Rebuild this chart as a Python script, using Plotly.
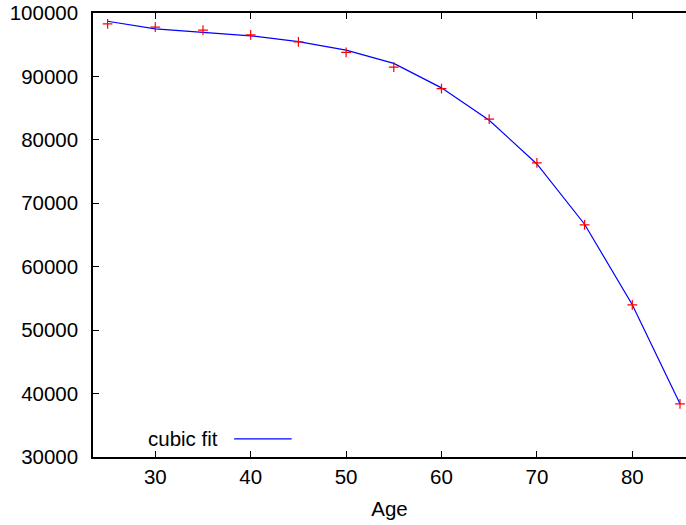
import plotly.graph_objects as go

ages = [25, 30, 35, 40, 45, 50, 55, 60, 65, 70, 75, 80, 85]
observed = [98300, 97780, 97300, 96560, 95460, 93800, 91470, 88090, 83270, 76370, 66590, 53975, 38360]
cubic_fit = [98700, 97500, 96950, 96400, 95500, 94150, 92050, 88200, 83100, 76200, 66700, 54000, 38400]
y_ticks = [30000, 40000, 50000, 60000, 70000, 80000, 90000, 100000]
x_ticks = [30, 40, 50, 60, 70, 80]

FONT = "Liberation Sans, Arial, sans-serif"
FS = 20.5

fig = go.Figure()
fig.add_trace(go.Scatter(x=ages, y=cubic_fit, mode="lines", name="cubic fit",
                         line=dict(color="#0000ff", width=1.2), showlegend=False))
fig.add_trace(go.Scatter(x=ages, y=observed, mode="markers", name="data",
                         marker=dict(symbol="cross-thin", size=7,
                                     line=dict(color="#ff0000", width=1.2)),
                         showlegend=False))

fig.update_layout(
    width=686, height=525,
    margin=dict(l=93, r=0, t=13, b=68),
    paper_bgcolor="white", plot_bgcolor="white",
    font=dict(family=FONT, size=FS, color="black"),
    xaxis=dict(range=[23.47, 85.63], tickvals=x_ticks, ticks="inside", ticklen=6,
               tickcolor="black", showline=True, linecolor="black", linewidth=1.5,
               mirror="ticks", showgrid=False, zeroline=False, automargin=False,
               title=dict(text="Age", standoff=14, font=dict(family=FONT, size=FS, color="black")),
               ticklabelstandoff=1),
    yaxis=dict(range=[30000, 100000], tickvals=y_ticks, ticks="inside", ticklen=6,
               tickcolor="black", showline=True, linecolor="black", linewidth=1.5,
               showgrid=False, zeroline=False, ticklabelstandoff=9, automargin=False,
               tickformat="d"),
)

# legend in gnuplot style: text followed by line sample
fig.add_annotation(x=0.214, y=0.041, xref="paper", yref="paper", text="cubic fit",
                   showarrow=False, xanchor="right", yanchor="middle",
                   font=dict(family=FONT, size=FS, color="black"))
fig.add_shape(type="line", xref="paper", yref="paper", x0=0.238, x1=0.335, y0=0.041, y1=0.041,
              line=dict(color="#0000ff", width=1.2))

fig.write_html("out.html", config={"displayModeBar": False},
               post_script="document.body.style.margin='0';")
